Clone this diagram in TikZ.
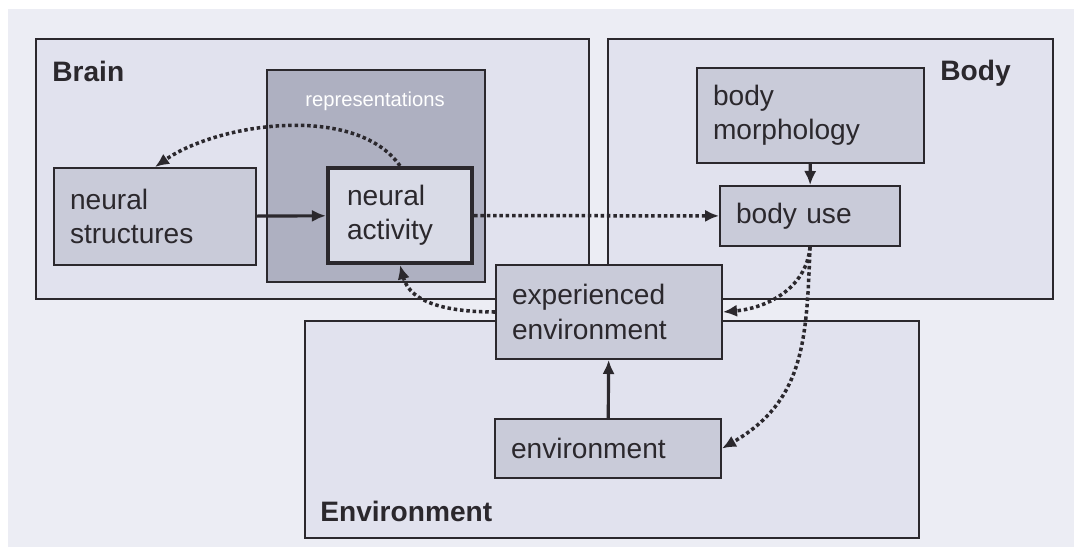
\documentclass[tikz,border=0pt]{standalone}
\usepackage{fontspec}
\setmainfont{Liberation Sans}
\usetikzlibrary{arrows.meta}
\definecolor{fond}{HTML}{ECEDF4}
\definecolor{cadreFond}{HTML}{E1E2EE}
\definecolor{boiteFond}{HTML}{C9CBD9}
\definecolor{repFond}{HTML}{AEB0C1}
\definecolor{actFond}{HTML}{D9DBE7}
\definecolor{trait}{HTML}{2B282D}
\begin{document}
\begin{tikzpicture}[x=0.02cm,y=-0.02cm]
		% Styles (MODIFIABLES)
		\tikzstyle{cadre}=[draw=trait,fill=cadreFond,line width=1pt,inner sep=0pt]
		\tikzstyle{boite}=[draw=trait,fill=boiteFond,line width=1.1pt,align=left,inner xsep=0.32cm,inner ysep=0pt,text=trait,font=\fontsize{16}{19.5}\selectfont]
		\tikzstyle{titre}=[anchor=base west,inner sep=0pt,text=trait,font=\bfseries\fontsize{16}{19}\selectfont]
		\tikzstyle{lienPlein}=[->,>={Latex[length=8pt,width=7pt]},line width=1.8pt,draw=trait]
		\tikzstyle{lienPointille}=[lienPlein,line width=2pt,dash pattern=on 2pt off 1.6pt]
		% Fond
		\useasboundingbox (0,0) rectangle (1074,547);
		\fill[white] (0,0) rectangle (1074,547);
		\fill[fond] (8,9) rectangle (1074,547);
		% Cadres
		\node[cadre,minimum width=11.06cm,minimum height=5.2cm] (brain) at (312.5,169) {};
		\node[cadre,minimum width=8.9cm,minimum height=5.2cm] (body) at (830.5,169) {};
		\node[cadre,minimum width=12.28cm,minimum height=4.34cm] (envir) at (612,429.5) {};
		\node[titre] (tBrain) at (52,82) {Brain};
		\node[titre] (tBody) at (940,81) {Body};
		\node[titre] (tEnv) at (320,521) {Environment};
		\node[cadre,fill=repFond,minimum width=4.36cm,minimum height=4.24cm] (rep) at (376,176) {};
		\node[anchor=base,inner sep=0pt,text=white,font=\fontsize{11.5}{13}\selectfont] (tRep) at (375,107) {representations};
		% Noeuds
		\node[boite,minimum width=4.04cm,minimum height=1.94cm,text width=3.4cm] (ns) at (155,216.5) {neural\\structures};
		\node[boite,fill=actFond,line width=2.4pt,inner xsep=0.38cm,minimum width=2.88cm,minimum height=1.9cm,text width=2.12cm] (na) at (400,215.5) {neural\\activity};
		\node[boite,minimum width=4.54cm,minimum height=1.9cm,text width=3.9cm] (bm) at (810.5,115.5) {body\\morphology};
		\node[boite,minimum width=3.6cm,minimum height=1.2cm,text width=2.96cm] (bu) at (810,216) {body use};
		\node[boite,minimum width=4.52cm,minimum height=1.88cm,text width=3.88cm] (ee) at (609,312) {experienced\\environment};
		\node[boite,minimum width=4.52cm,minimum height=1.18cm,text width=3.88cm] (env) at (608,448.5) {environment};
		% Arcs
		\draw[lienPlein] (ns) -- (na);
		\draw[lienPointille] (na.north) to[out=125,in=35,looseness=0.8] (ns.north);
		\draw[lienPointille] (na) -- (bu);
		\draw[lienPointille] (ee.west) to[out=180,in=-75] (na.south);
		\draw[lienPointille] (bu.south) to[out=-95,in=5] (ee.east);
		\draw[lienPointille] (bu.south) to[out=-92,in=30,looseness=1.1] (env.east);
		\draw[lienPlein] (bm) -- (bu);
		\draw[lienPlein] (env) -- (ee);
\end{tikzpicture}
\end{document}
